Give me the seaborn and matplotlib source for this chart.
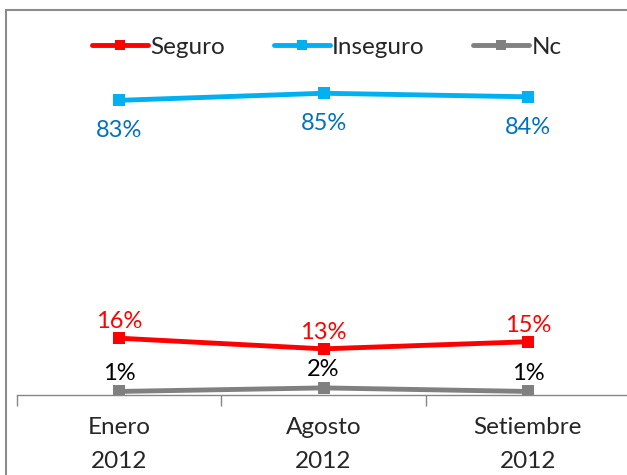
import numpy as np
import pandas as pd
import seaborn as sns
import matplotlib.pyplot as plt
from matplotlib.patches import Rectangle

# data
periods = ["Enero\n2012", "Agosto\n2012", "Setiembre\n2012"]
seguro = [16, 13, 15]
inseguro = [83, 85, 84]
nc = [1, 2, 1]

series = ["Seguro", "Inseguro", "Nc"]
colors = {"Seguro": "#FF0000", "Inseguro": "#00B0F0", "Nc": "#808080"}
label_colors = {"Seguro": "#FF0000", "Inseguro": "#0070C0", "Nc": "#000000"}
label_offset = {"Seguro": 12, "Inseguro": -22, "Nc": 13}

df = pd.DataFrame({
    "x": list(range(len(periods))) * 3,
    "valor": seguro + inseguro + nc,
    "serie": [s for s in series for _ in periods],
})

sns.set_style("white")
plt.rcParams["font.family"] = ["Lato", "DejaVu Sans"]

fig = plt.figure(figsize=(6.27, 4.75), dpi=100)
ax = fig.add_axes([17 / 627, 80 / 475, 613 / 627, 355 / 475])

sns.lineplot(data=df, x="x", y="valor", hue="serie", style="serie",
             palette=colors, markers={s: "s" for s in series}, dashes=False,
             markersize=8, linewidth=3.5, markeredgewidth=0, ax=ax, legend=False)

# data labels
for s, vals in zip(series, [seguro, inseguro, nc]):
    for i, v in enumerate(vals):
        ax.annotate(f"{v}%", (i, v), xytext=(0, label_offset[s]),
                    textcoords="offset points", ha="center", va="center",
                    fontsize=17, color=label_colors[s])

ax.set_xlim(-0.5, 2.5)
ax.set_ylim(0, 100)
ax.set_xticks(range(len(periods)))
ax.set_xticklabels(periods, fontsize=17.5, linespacing=1.75)
ax.set_xticks(np.arange(-0.5, 3, 1), minor=True)
ax.tick_params(axis="x", which="major", bottom=False, length=0, pad=16)
ax.tick_params(axis="x", which="minor", bottom=True, length=8, width=1, color="#868686", direction="out")
ax.set_yticks([])
ax.set_xlabel("")
ax.set_ylabel("")
for side in ["left", "right", "top"]:
    ax.spines[side].set_visible(False)
ax.spines["bottom"].set_color("#868686")
ax.spines["bottom"].set_linewidth(1)

# legend
handles = [plt.Line2D([], [], color=colors[s], lw=3.5, marker="s", markersize=7, markeredgewidth=0)
           for s in series]
fig.legend(handles, series, loc="center", bbox_to_anchor=(327 / 627, 1 - 47 / 475), ncol=3,
           frameon=False, fontsize=17.5, handlelength=2.3, handletextpad=0.1, columnspacing=2.0)

# chart frame
fig.patches.append(Rectangle((6 / 627, -0.1), 1.0, 1.1 - 10 / 475, transform=fig.transFigure,
                             fill=False, edgecolor="#8c8c8c", lw=1.5))

fig.savefig("out.png", dpi=100)
